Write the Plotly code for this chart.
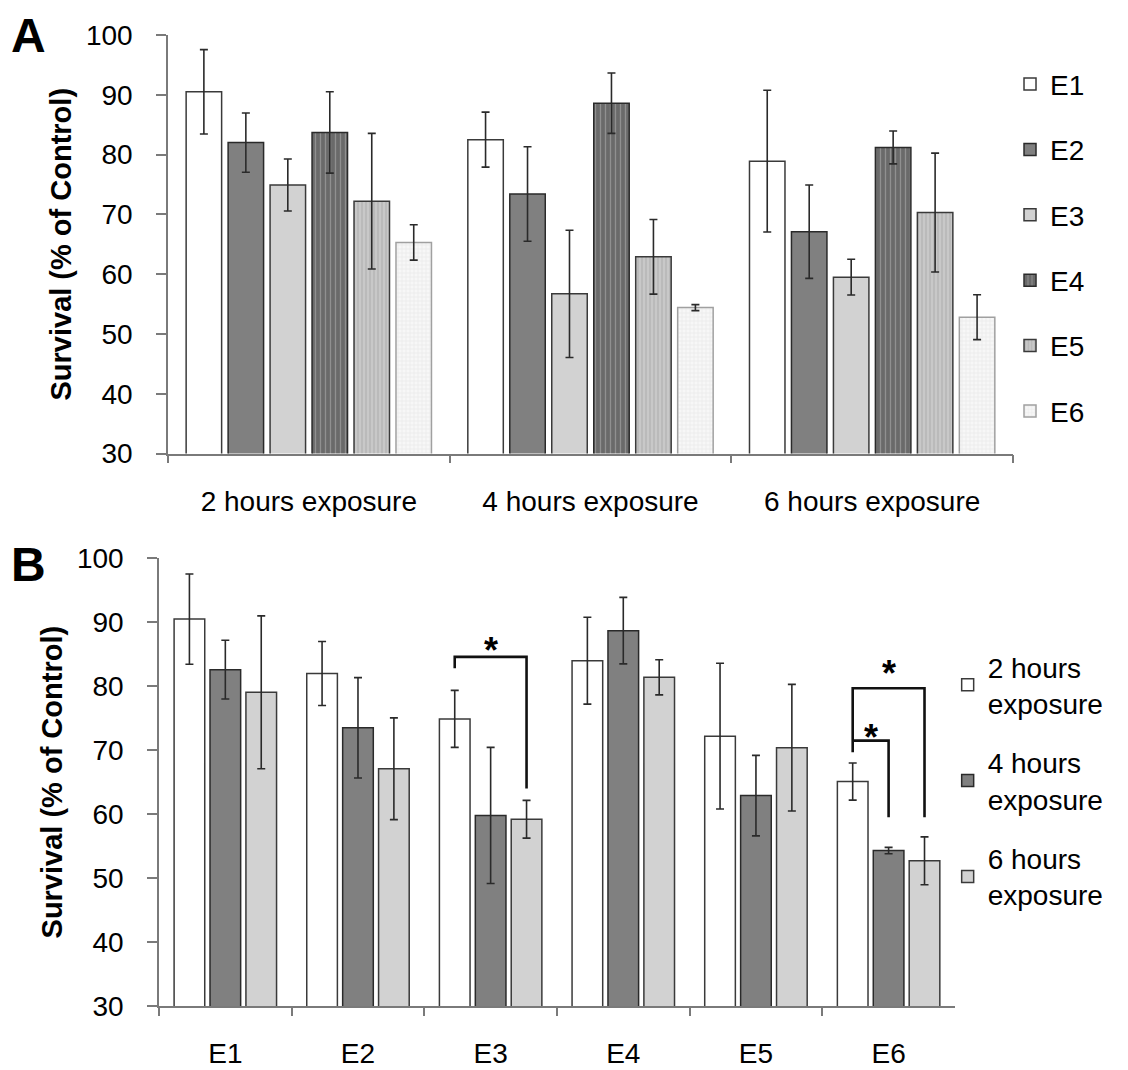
import plotly.graph_objects as go

# ---------------- data ----------------
exposures = ["2 hours exposure", "4 hours exposure", "6 hours exposure"]
extracts = ["E1", "E2", "E3", "E4", "E5", "E6"]

# Panel A: one series per extract, values at 2h/4h/6h
a_E1 = [90.5, 82.5, 78.9]
a_E2 = [82.0, 73.4, 67.1]
a_E3 = [74.9, 56.7, 59.5]
a_E4 = [83.7, 88.6, 81.2]
a_E5 = [72.2, 62.9, 70.3]
a_E6 = [65.3, 54.4, 52.8]
a_E1_err = [7.05, 4.6, 11.85]
a_E2_err = [4.95, 7.9, 7.8]
a_E3_err = [4.35, 10.65, 3.0]
a_E4_err = [6.8, 5.05, 2.75]
a_E5_err = [11.35, 6.25, 9.95]
a_E6_err = [2.95, 0.5, 3.75]

# Panel B: one series per exposure, values at E1..E6
b_2h = [90.5, 82.0, 74.9, 84.0, 72.2, 65.1]
b_4h = [82.6, 73.5, 59.8, 88.7, 62.9, 54.3]
b_6h = [79.05, 67.1, 59.2, 81.4, 70.4, 52.7]
b_2h_err = [7.05, 5.0, 4.45, 6.8, 11.4, 2.9]
b_4h_err = [4.6, 7.85, 10.65, 5.2, 6.3, 0.5]
b_6h_err = [11.95, 7.95, 2.95, 2.75, 9.9, 3.75]
b_names = ["2 hours<br>exposure", "4 hours<br>exposure", "6 hours<br>exposure"]

# significance brackets in panel B: (category, from series, to series, top, left end, right end)
brackets = [
    ("E3", 0, 2, 84.6, 82.8, 64.0),
    ("E6", 0, 2, 79.7, 69.7, 59.5),
    ("E6", 0, 1, 71.5, 71.5, 59.5),
]
star_y = [87.2, 83.6, 73.6]

# ---------------- styles ----------------
FONT = "Liberation Sans, Arial, sans-serif"
AXC = "#7a7a7a"
EDGE = "#3a3a3a"

a_series = [a_E1, a_E2, a_E3, a_E4, a_E5, a_E6]
a_errs = [a_E1_err, a_E2_err, a_E3_err, a_E4_err, a_E5_err, a_E6_err]
a_styles = [
    dict(color="white", line=dict(color=EDGE, width=1.5)),
    dict(color="#808080", line=dict(color="#2a2a2a", width=1.5)),
    dict(color="#d2d2d2", line=dict(color=EDGE, width=1.5)),
    dict(color="#6f6f6f", line=dict(color="#2a2a2a", width=1.5),
         pattern=dict(shape="|", bgcolor="#6a6a6a", fgcolor="#b8b8b8", size=5, solidity=0.25)),
    dict(color="#c2c2c2", line=dict(color=EDGE, width=1.5),
         pattern=dict(shape="|", bgcolor="#c8c8c8", fgcolor="#989898", size=4, solidity=0.3)),
    dict(color="#f2f2f2", line=dict(color="#a0a0a0", width=1.5),
         pattern=dict(shape="+", bgcolor="#f7f7f7", fgcolor="#d0d0d0", size=4, solidity=0.25)),
]
b_series = [b_2h, b_4h, b_6h]
b_errs = [b_2h_err, b_4h_err, b_6h_err]
b_styles = [
    dict(color="white", line=dict(color=EDGE, width=1.5)),
    dict(color="#808080", line=dict(color="#2a2a2a", width=1.5)),
    dict(color="#d2d2d2", line=dict(color=EDGE, width=1.5)),
]

# bar slot geometry (fraction of a category)
A_STEP, A_W = 0.149, 0.126
B_STEP, B_W = 0.2707, 0.231

fig = go.Figure()

nA = len(a_series)
for j, (vals, err, st) in enumerate(zip(a_series, a_errs, a_styles)):
    center = (j - (nA - 1) / 2) * A_STEP
    fig.add_trace(go.Bar(
        x=exposures, y=vals, name=extracts[j],
        offset=center - A_W / 2, width=A_W,
        marker=st,
        error_y=dict(type="data", array=err, color="#2a2a2a", thickness=1.6, width=4),
        xaxis="x", yaxis="y", legend="legend", legendgroup="a%d" % j,
    ))

nB = len(b_series)
for j, (vals, err, st) in enumerate(zip(b_series, b_errs, b_styles)):
    center = (j - (nB - 1) / 2) * B_STEP
    fig.add_trace(go.Bar(
        x=extracts, y=vals, name=b_names[j],
        offset=center - B_W / 2, width=B_W,
        marker=st,
        error_y=dict(type="data", array=err, color="#2a2a2a", thickness=1.6, width=4),
        xaxis="x2", yaxis="y2", legend="legend2", legendgroup="b%d" % j,
    ))

shapes = []
for (cat, s0, s1, top, yl, yr) in brackets:
    ci = extracts.index(cat)
    x0 = ci + (s0 - (nB - 1) / 2) * B_STEP
    x1 = ci + (s1 - (nB - 1) / 2) * B_STEP
    shapes.append(dict(type="path", xref="x2", yref="y2",
                       path=f"M {x0},{yl} L {x0},{top} L {x1},{top} L {x1},{yr}",
                       line=dict(color="#111111", width=2.6)))

annotations = []
for (cat, s0, s1, top, yl, yr), sy in zip(brackets, star_y):
    ci = extracts.index(cat)
    x0 = ci + (s0 - (nB - 1) / 2) * B_STEP
    x1 = ci + (s1 - (nB - 1) / 2) * B_STEP
    annotations.append(dict(x=(x0 + x1) / 2, y=sy - 1.6, xref="x2", yref="y2", text="<b>*</b>",
                            xanchor="center", yanchor="middle",
                            showarrow=False, font=dict(size=36, color="black", family=FONT)))

annotations += [
    dict(text="<b>A</b>", x=-0.153, y=0.999, xref="paper", yref="paper", showarrow=False,
         xanchor="center", yanchor="middle", borderpad=0,
         font=dict(size=48, color="black", family=FONT)),
    dict(text="<b>B</b>", x=-0.153, y=0.455, xref="paper", yref="paper", showarrow=False,
         xanchor="center", yanchor="middle", borderpad=0,
         font=dict(size=48, color="black", family=FONT)),
]

axis_common = dict(showline=True, linecolor=AXC, linewidth=1.5, ticks="outside",
                   tickcolor=AXC, tickwidth=1.5, showgrid=False, zeroline=False,
                   automargin=False,
                   tickfont=dict(size=28, color="black", family=FONT))
yaxis_common = dict(axis_common, range=[30, 100], dtick=10, ticklen=10, ticklabelstandoff=18,
                    title=dict(text="<b>Survival (% of Control)</b>", standoff=6,
                               font=dict(size=29, color="black", family=FONT)))
xaxis_common = dict(axis_common, type="category", tickson="boundaries", ticklen=8,
                    ticklabelstandoff=22)

fig.update_layout(
    width=1128, height=1070,
    margin=dict(l=151, r=123, t=27, b=72),
    paper_bgcolor="white", plot_bgcolor="white",
    barmode="overlay",
    font=dict(family=FONT, color="black"),
    xaxis=dict(xaxis_common, domain=[0.0105, 1.0], anchor="y"),
    yaxis=dict(yaxis_common, domain=[0.569, 1.0], anchor="x"),
    xaxis2=dict(xaxis_common, domain=[0.0, 0.932], anchor="y2"),
    yaxis2=dict(yaxis_common, domain=[0.0, 0.461], anchor="x2"),
    legend=dict(x=0.9965, y=0.975, xanchor="left", yanchor="top", tracegroupgap=26,
                font=dict(size=28, color="black", family=FONT), bgcolor="rgba(0,0,0,0)"),
    legend2=dict(x=0.9235, y=0.375, xanchor="left", yanchor="top", tracegroupgap=20,
                 font=dict(size=28, color="black", family=FONT), bgcolor="rgba(0,0,0,0)"),
    shapes=shapes,
    annotations=annotations,
    showlegend=True,
)

fig.write_html("out.html")
